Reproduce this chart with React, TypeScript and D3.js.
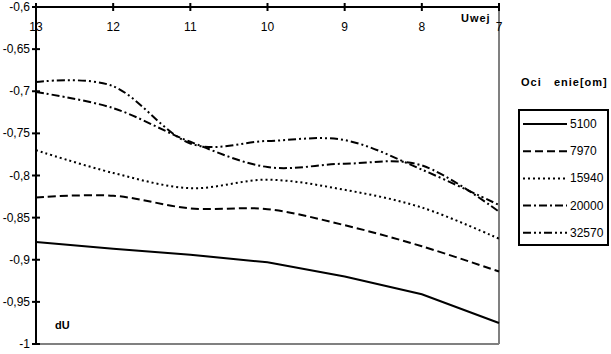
import * as d3 from 'd3';
import React, { useEffect, useRef } from 'react';

// Uwej values on the (reversed) x axis
const uwej = [13, 12, 11, 10, 9, 8, 7];
const yTicks = [-0.6, -0.65, -0.7, -0.75, -0.8, -0.85, -0.9, -0.95, -1];

const seriesNames = ['5100', '7970', '15940', '20000', '32570'];
const s5100 = [-0.879, -0.887, -0.894, -0.903, -0.92, -0.941, -0.975];
const s7970 = [-0.826, -0.824, -0.839, -0.84, -0.859, -0.884, -0.914];
const s15940 = [-0.77, -0.797, -0.815, -0.805, -0.817, -0.838, -0.875];
const s20000 = [-0.701, -0.72, -0.76, -0.79, -0.786, -0.788, -0.843];
const s32570 = [-0.689, -0.694, -0.762, -0.759, -0.758, -0.793, -0.835];

const dashes = ['none', '8,4', '2,3', '8,3,2,3', '8,3,2,3,2,3'];

export default function App() {
  const ref = useRef<SVGSVGElement>(null);
  const width = 611;
  const height = 354;

  useEffect(() => {
    const svg = d3.select(ref.current);
    svg.selectAll('*').remove();

    const x = d3.scaleLinear().domain([13, 7]).range([36, 499]);
    const y = d3.scaleLinear().domain([-1, -0.6]).range([344, 7]);
    const font = 'Liberation Sans, Arial, sans-serif';

    // gray frame right + bottom
    svg.append('line').attr('x1', 499).attr('x2', 499).attr('y1', 7).attr('y2', 344)
      .attr('stroke', '#808080').attr('stroke-width', 2);
    svg.append('line').attr('x1', 36).attr('x2', 499).attr('y1', 344).attr('y2', 344)
      .attr('stroke', '#808080').attr('stroke-width', 2);

    const data = [s5100, s7970, s15940, s20000, s32570];

    data.forEach((vals, i) => {
      const line = d3.line<number>()
        .x((d, j) => x(uwej[j]))
        .y(d => y(d))
        .curve(i === 0 ? d3.curveLinear : d3.curveCatmullRom.alpha(0));
      svg.append('path')
        .attr('d', line(vals))
        .attr('fill', 'none')
        .attr('stroke', '#000')
        .attr('stroke-width', 2)
        .attr('stroke-dasharray', dashes[i]);
    });

    // top x axis
    svg.append('line').attr('x1', 36).attr('x2', 499).attr('y1', 7).attr('y2', 7)
      .attr('stroke', '#000').attr('stroke-width', 2);
    uwej.forEach(v => {
      svg.append('line').attr('x1', x(v)).attr('x2', x(v)).attr('y1', 3).attr('y2', 11)
        .attr('stroke', '#000').attr('stroke-width', 2);
      svg.append('text').attr('x', x(v)).attr('y', 31).attr('text-anchor', 'middle')
        .attr('font-family', font).attr('font-size', 12).text(String(v));
    });

    // left y axis
    svg.append('line').attr('x1', 36).attr('x2', 36).attr('y1', 7).attr('y2', 345)
      .attr('stroke', '#000').attr('stroke-width', 2);
    yTicks.forEach(v => {
      svg.append('line').attr('x1', 32).attr('x2', 40).attr('y1', y(v)).attr('y2', y(v))
        .attr('stroke', '#000').attr('stroke-width', 2);
      svg.append('text').attr('x', 30).attr('y', y(v) + 4).attr('text-anchor', 'end')
        .attr('font-family', font).attr('font-size', 12)
        .text(String(v).replace('.', ','));
    });

    svg.append('text').attr('x', 461).attr('y', 22).attr('font-family', font)
      .attr('font-size', 11).attr('font-weight', 'bold').attr('letter-spacing', 1).text('Uwej');
    svg.append('text').attr('x', 55).attr('y', 329).attr('font-family', font)
      .attr('font-size', 11).attr('font-weight', 'bold').text('dU');

    // legend
    svg.append('text').attr('x', 521).attr('y', 86).attr('font-family', font)
      .attr('font-size', 11).attr('font-weight', 'bold').attr('letter-spacing', 1)
      .style('white-space', 'pre')
      .text('Oci   enie[om]');
    svg.append('rect').attr('x', 519).attr('y', 110).attr('width', 89).attr('height', 135)
      .attr('fill', '#fff').attr('stroke', '#000').attr('stroke-width', 2);
    seriesNames.forEach((name, i) => {
      const ly = 124 + i * 27.2;
      svg.append('line').attr('x1', 523).attr('x2', 567).attr('y1', ly).attr('y2', ly)
        .attr('stroke', '#000').attr('stroke-width', 2).attr('stroke-dasharray', dashes[i]);
      svg.append('text').attr('x', 570).attr('y', ly + 4).attr('font-family', font)
        .attr('font-size', 12).text(name);
    });
  }, []);

  return (
    <svg ref={ref} width={width} height={height}
      style={{ position: 'absolute', left: 0, top: 0, background: '#fff' }} />
  );
}
